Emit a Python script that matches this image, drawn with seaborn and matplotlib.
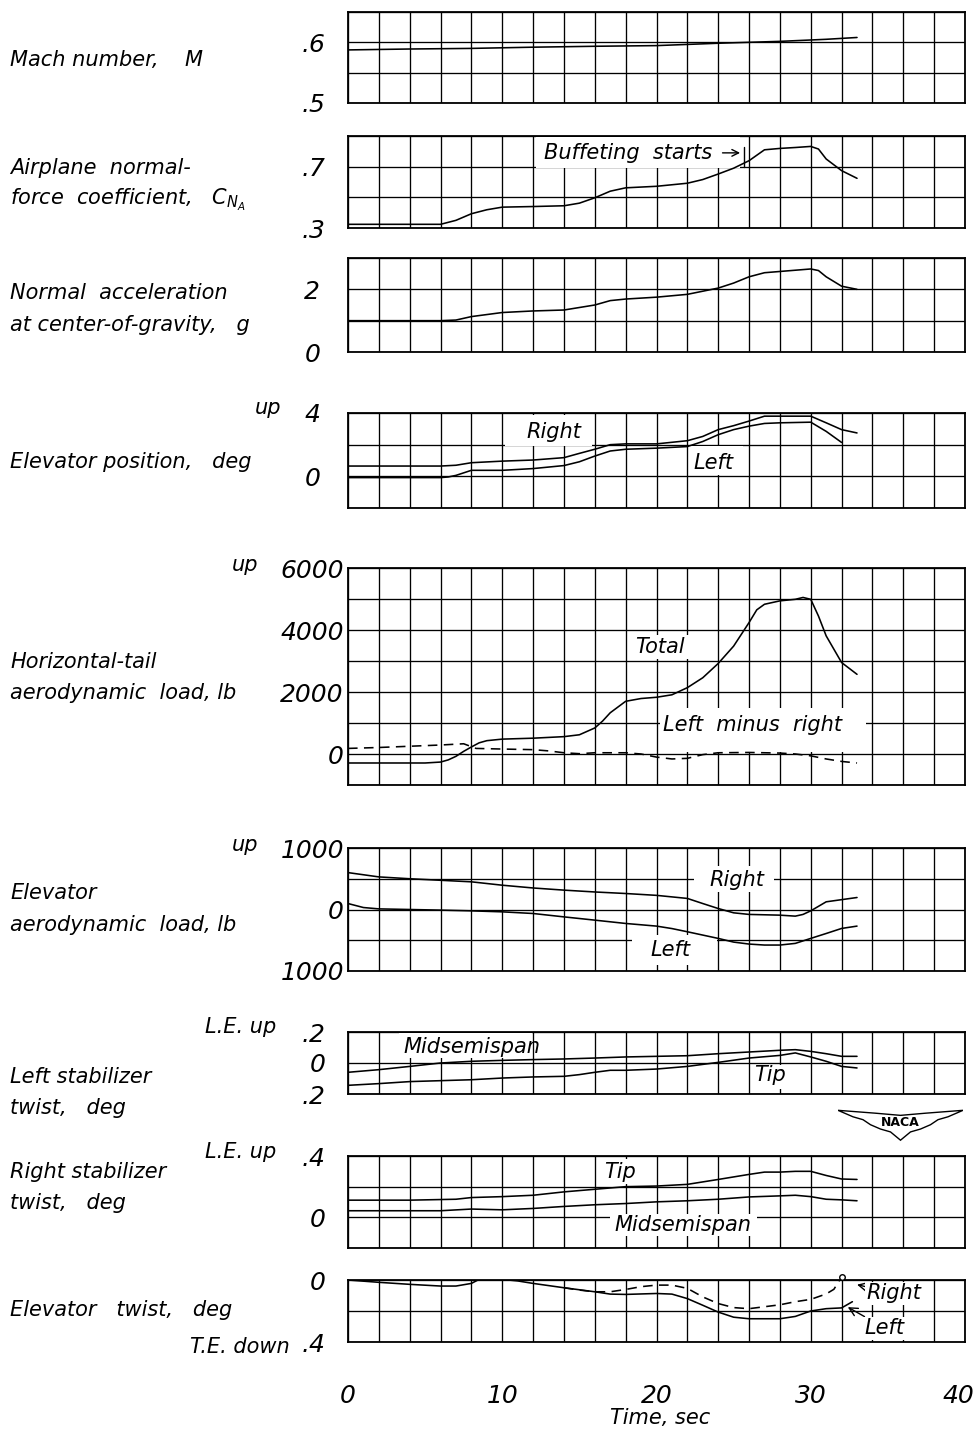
import matplotlib
matplotlib.use("Agg")
import matplotlib.pyplot as plt
from matplotlib.patches import Polygon, Rectangle
from matplotlib.transforms import ScaledTranslation
import numpy as np
import seaborn as sns

# ---------------- data: time histories (time in sec) ----------------
mach_t = [0, 4, 8, 12, 16, 20, 24, 28, 31, 33]
mach_v = [0.5875, 0.589, 0.590, 0.592, 0.5935, 0.5946, 0.5985, 0.6016, 0.605, 0.608]

cna_t = [0, 6, 7, 8, 9, 10, 12, 14, 15, 16, 17, 18, 20, 22, 23, 24, 25, 26, 27,
         28, 29, 30, 30.5, 31, 32, 33]
cna_v = [0.324, 0.324, 0.35, 0.393, 0.419, 0.436, 0.44, 0.445, 0.462, 0.497, 0.54,
         0.562, 0.572, 0.592, 0.616, 0.652, 0.69, 0.739, 0.81, 0.819, 0.825, 0.832,
         0.815, 0.75, 0.674, 0.624]

nz_t = [0, 6, 7, 8, 10, 12, 14, 16, 17, 18, 20, 22, 24, 25, 26, 27, 28, 29, 30,
        30.5, 31, 32, 33]
nz_v = [1.0, 1.0, 1.02, 1.13, 1.26, 1.31, 1.34, 1.5, 1.64, 1.69, 1.75, 1.84, 2.04,
        2.2, 2.4, 2.53, 2.57, 2.61, 2.65, 2.6, 2.4, 2.1, 2.0]

elev_right_t = [0, 6, 7, 8, 10, 12, 14, 15, 16, 17, 18, 20, 22, 23, 24, 25, 26, 27,
                28, 30, 31, 32, 33]
elev_right_v = [0.65, 0.65, 0.7, 0.86, 0.96, 1.03, 1.18, 1.45, 1.71, 2.0, 2.05, 2.05,
                2.25, 2.52, 2.95, 3.2, 3.49, 3.8, 3.8, 3.8, 3.38, 2.95, 2.74]
elev_left_t = [0, 6, 6.5, 7, 8, 10, 12, 14, 15, 16, 17, 18, 20, 22, 23, 24, 25, 26,
               27, 28, 30, 31, 32]
elev_left_v = [-0.08, -0.08, -0.04, 0.06, 0.38, 0.38, 0.49, 0.68, 0.92, 1.28, 1.6,
               1.71, 1.78, 1.88, 2.2, 2.63, 2.95, 3.17, 3.34, 3.38, 3.42, 2.84, 2.14]

tail_total_t = [0, 5, 6, 6.5, 7, 7.5, 8, 8.5, 9, 10, 12, 14, 15, 16, 16.5, 17, 18,
                19, 20, 21, 22, 23, 24, 25, 26, 26.5, 27, 28, 29, 29.5, 30, 30.5, 31,
                32, 33]
tail_total_v = [-290, -290, -260, -190, -75, 86, 227, 360, 430, 480, 510, 560, 620,
                840, 1060, 1330, 1700, 1790, 1830, 1910, 2140, 2460, 2920, 3480, 4240,
                4650, 4830, 4940, 4990, 5050, 4990, 4450, 3810, 2950, 2570]
tail_diff_t = [0, 2, 4, 6, 7.5, 8.3, 10, 12, 13, 14, 15, 16, 18, 19, 20, 21, 22, 23,
               24, 26, 28, 29, 30, 31, 32, 33]
tail_diff_v = [180, 210, 250, 290, 330, 180, 160, 140, 100, 40, 10, 40, 40, 0, -100,
               -160, -140, -20, 40, 50, 30, 0, -60, -160, -240, -290]

eload_right_t = [0, 2, 4, 6, 8, 10, 12, 14, 16, 18, 20, 22, 23, 24, 25, 26, 28, 29,
                 29.5, 30, 31, 32, 33]
eload_right_v = [600, 530, 500, 475, 450, 395, 350, 315, 285, 260, 230, 180, 97, 16,
                 -54, -80, -92, -108, -80, -22, 125, 160, 195]
eload_left_t = [0, 1, 2, 4, 6, 8, 10, 12, 14, 16, 18, 20, 21, 22, 24, 25, 26, 27, 28,
                29, 30, 31, 32, 33]
eload_left_v = [97, 32, 10, 0, -10, -22, -38, -65, -120, -173, -227, -270, -310, -362,
                -470, -530, -562, -578, -578, -551, -470, -390, -308, -270]

lstab_mid_t = [0, 2, 4, 6, 8, 10, 12, 14, 16, 18, 20, 22, 24, 26, 28, 29, 30, 31, 32, 33]
lstab_mid_v = [-0.06, -0.043, -0.022, 0.0, 0.011, 0.017, 0.022, 0.026, 0.032, 0.039,
               0.043, 0.047, 0.06, 0.071, 0.082, 0.086, 0.075, 0.06, 0.043, 0.043]
lstab_tip_t = [0, 2, 4, 6, 8, 10, 12, 14, 15, 16, 17, 18, 20, 22, 24, 26, 28, 29, 30,
               31, 32, 33]
lstab_tip_v = [-0.144, -0.133, -0.12, -0.114, -0.108, -0.097, -0.09, -0.086, -0.075,
               -0.06, -0.047, -0.047, -0.039, -0.022, 0.004, 0.032, 0.049, 0.065, 0.039,
               0.011, -0.022, -0.032]

rstab_tip_t = [0, 4, 7, 8, 10, 12, 14, 16, 18, 20, 22, 24, 26, 27, 28, 29, 30, 31, 32, 33]
rstab_tip_v = [0.112, 0.112, 0.118, 0.129, 0.135, 0.144, 0.166, 0.183, 0.2, 0.204,
               0.215, 0.247, 0.28, 0.295, 0.295, 0.3, 0.3, 0.273, 0.25, 0.247]
rstab_mid_t = [0, 6, 8, 10, 12, 14, 16, 18, 20, 22, 24, 26, 28, 29, 30, 31, 32, 33]
rstab_mid_v = [0.043, 0.043, 0.054, 0.049, 0.058, 0.071, 0.082, 0.09, 0.101, 0.108,
               0.118, 0.133, 0.14, 0.144, 0.135, 0.118, 0.114, 0.108]

etwist_left_t = [0, 2, 4, 6, 7, 8, 8.5, 10, 11, 12, 14, 16, 17, 18, 20, 21, 22, 23,
                 24, 25, 26, 28, 29, 30, 31, 32, 32.7]
etwist_left_v = [0, -0.015, -0.028, -0.039, -0.039, -0.022, 0.004, 0.004, -0.006,
                 -0.022, -0.05, -0.076, -0.091, -0.093, -0.087, -0.091, -0.12, -0.163,
                 -0.207, -0.24, -0.25, -0.25, -0.235, -0.2, -0.185, -0.18, -0.14]
etwist_right_t = [14, 15, 16, 17, 18, 19, 20, 21, 22, 23, 24, 25, 26, 28, 29, 30, 31,
                  31.5, 32]
etwist_right_v = [-0.05, -0.065, -0.076, -0.076, -0.061, -0.043, -0.033, -0.033,
                  -0.054, -0.109, -0.152, -0.178, -0.185, -0.16, -0.14, -0.125, -0.09,
                  -0.06, 0.02]

time_ticks = [0, 10, 20, 30, 40]

# ---------------- styling ----------------
sns.set_theme(style="white")
plt.rcParams["font.family"] = ["DejaVu Sans"]
plt.rcParams["font.style"] = "oblique"
plt.rcParams["mathtext.fontset"] = "dejavusans"
for key in ("text.color", "axes.labelcolor", "xtick.color", "ytick.color",
            "xtick.labelcolor", "ytick.labelcolor"):
    plt.rcParams[key] = "black"

W, H = 979, 1430
fig = plt.figure(figsize=(W / 100, H / 100), dpi=100)
fig.patch.set_facecolor("white")

LX0, LX1 = 348, 965
LW = 1.15
LAB = 15
NUM = 18


def make_panel(top, bottom, ylo, yhi, step, labels, pad):
    ax = fig.add_axes([LX0 / W, 1 - bottom / H, (LX1 - LX0) / W, (bottom - top) / H])
    ax.set_xlim(0, 40)
    ax.set_ylim(ylo, yhi)
    ax.set_xticks(np.arange(0, 41, 2))
    ax.set_xticklabels([])
    yt = np.round(np.arange(ylo, yhi + step / 2, step), 6)
    ax.set_yticks(yt)
    ax.set_yticklabels([labels.get(round(float(v), 6), "") for v in yt],
                       fontsize=NUM, fontstyle="oblique", color="black")
    ax.tick_params(axis="both", length=0)
    ax.tick_params(axis="y", pad=pad)
    ax.grid(True, color="black", lw=0.95)
    for s in ax.spines.values():
        s.set_color("black")
        s.set_linewidth(1.3)
    ax.set_xlabel("")
    ax.set_ylabel("")
    return ax


def curve(ax, t, v, **kw):
    sns.lineplot(x=t, y=v, ax=ax, color="black", lw=LW, legend=False, **kw)
    ax.set_xlabel("")
    ax.set_ylabel("")


def note(ax, x, y, s, ha="left"):
    ax.text(x, y, s, fontsize=LAB, ha=ha, va="center", fontstyle="oblique",
            color="black", zorder=5)


def clear_box(ax, x0, x1, y0, y1):
    # white patch that interrupts the grid behind a lettered label
    ax.add_patch(Rectangle((x0, y0), x1 - x0, y1 - y0, facecolor="white",
                           edgecolor="none", zorder=1))


def ftext(x, y, s, size=LAB, ha="left"):
    fig.text(x / W, 1 - y / H, s, fontsize=size, ha=ha, va="center",
             fontstyle="oblique", color="black")


# 1 Mach number
ax1 = make_panel(12, 103, 0.5, 0.65, 0.05, {0.5: ".5", 0.6: ".6"}, 16)
curve(ax1, mach_t, mach_v)

# 2 Normal-force coefficient
ax2 = make_panel(136, 228, 0.3, 0.9, 0.2, {0.3: ".3", 0.7: ".7"}, 16)
clear_box(ax2, 12.2, 25.4, 0.69, 0.895)
curve(ax2, cna_t, cna_v)
note(ax2, 12.7, 0.79, "Buffeting  starts")
ax2.annotate("", xy=(25.6, 0.79), xytext=(24.1, 0.79),
             arrowprops=dict(arrowstyle="->", lw=1.0, color="black"), zorder=6)
ax2.plot([25.7, 25.7], [0.70, 0.83], color="black", lw=1.0, zorder=6)

# 3 Normal acceleration
ax3 = make_panel(258, 352, 0, 3, 1, {0: "0", 2: "2"}, 20)
curve(ax3, nz_t, nz_v)

# 4 Elevator position
ax4 = make_panel(413, 508, -2, 4, 2, {0: "0", 4: "4"}, 20)
clear_box(ax4, 10.2, 15.8, 1.9, 3.9)
clear_box(ax4, 22.1, 25.6, 0.1, 1.9)
curve(ax4, elev_right_t, elev_right_v)
curve(ax4, elev_left_t, elev_left_v)
note(ax4, 11.6, 2.8, "Right")
note(ax4, 22.4, 0.85, "Left")

# 5 Horizontal-tail load
ax5 = make_panel(568, 785, -1000, 6000, 1000,
                 {0: "0", 2000: "2000", 4000: "4000", 6000: "6000"}, 3)
clear_box(ax5, 18.3, 22.3, 3050, 3850)
clear_box(ax5, 20.2, 33.6, 60, 1480)
curve(ax5, tail_total_t, tail_total_v)
curve(ax5, tail_diff_t, tail_diff_v, linestyle=(0, (6, 4)))
note(ax5, 18.6, 3450, "Total")
note(ax5, 20.4, 930, "Left  minus  right")

# 6 Elevator aerodynamic load
ax6 = make_panel(848, 971, -1000, 1000, 500,
                 {-1000: "1000", 0: "0", 1000: "1000"}, 3)
clear_box(ax6, 22.4, 27.6, 290, 700)
clear_box(ax6, 18.4, 23.9, -900, -420)
curve(ax6, eload_right_t, eload_right_v)
curve(ax6, eload_left_t, eload_left_v)
note(ax6, 23.4, 480, "Right")
note(ax6, 19.6, -660, "Left")

# 7 Left stabilizer twist
ax7 = make_panel(1032, 1094, -0.2, 0.2, 0.2, {-0.2: ".2", 0.0: "0", 0.2: ".2"}, 16)
clear_box(ax7, 3.3, 11.9, 0.03, 0.195)
clear_box(ax7, 26.1, 28.6, -0.17, -0.01)
curve(ax7, lstab_mid_t, lstab_mid_v)
curve(ax7, lstab_tip_t, lstab_tip_v)
note(ax7, 3.6, 0.103, "Midsemispan")
note(ax7, 26.3, -0.077, "Tip")

# 8 Right stabilizer twist
ax8 = make_panel(1156, 1248, -0.2, 0.4, 0.2, {0.0: "0", 0.4: ".4"}, 16)
clear_box(ax8, 16.3, 19.0, 0.22, 0.38)
clear_box(ax8, 17.0, 26.5, -0.12, 0.02)
curve(ax8, rstab_tip_t, rstab_tip_v)
curve(ax8, rstab_mid_t, rstab_mid_v)
note(ax8, 16.6, 0.296, "Tip")
note(ax8, 17.3, -0.05, "Midsemispan")

# 9 Elevator twist
ax9 = make_panel(1280, 1342, -0.4, 0.0, 0.2, {-0.4: ".4", 0.0: "0"}, 16)
curve(ax9, etwist_left_t, etwist_left_v)
curve(ax9, etwist_right_t, etwist_right_v, linestyle=(0, (6, 4)))
ax9.plot([32.0], [0.02], marker="o", ms=4, mfc="white", mec="black", mew=1.0,
         clip_on=False, zorder=6)
ax9.annotate("Right", xy=(33.0, -0.03), xytext=(33.6, -0.085), fontsize=LAB,
             ha="left", va="center", fontstyle="oblique", color="black", zorder=6,
             bbox=dict(facecolor="white", edgecolor="none", pad=1.0),
             arrowprops=dict(arrowstyle="->", lw=1.0, color="black",
                             shrinkA=0, shrinkB=0))
ax9.annotate("Left", xy=(32.4, -0.175), xytext=(33.5, -0.31), fontsize=LAB,
             ha="left", va="center", fontstyle="oblique", color="black", zorder=6,
             bbox=dict(facecolor="white", edgecolor="none", pad=1.0),
             arrowprops=dict(arrowstyle="->", lw=1.0, color="black",
                             shrinkA=0, shrinkB=0))
ax9.set_xticklabels([str(v) if v in time_ticks else "" for v in range(0, 41, 2)],
                    fontsize=NUM, fontstyle="oblique", color="black")
ax9.tick_params(axis="x", pad=30)
last = ax9.get_xticklabels()[-1]
last.set_transform(last.get_transform() + ScaledTranslation(-0.07, 0, fig.dpi_scale_trans))

# ---------------- left-hand titles ----------------
ftext(10, 60, "Mach number,    M")
ftext(10, 168, "Airplane  normal-")
ftext(10, 200, r"force  coefficient,   $C_{N_A}$")
ftext(10, 293, "Normal  acceleration")
ftext(10, 325, "at center-of-gravity,   g")
ftext(255, 408, "up")
ftext(10, 462, "Elevator position,   deg")
ftext(232, 565, "up")
ftext(10, 662, "Horizontal-tail")
ftext(10, 693, "aerodynamic  load, lb")
ftext(232, 845, "up")
ftext(10, 893, "Elevator")
ftext(10, 925, "aerodynamic  load, lb")
ftext(205, 1027, "L.E. up")
ftext(10, 1077, "Left stabilizer")
ftext(10, 1108, "twist,   deg")
ftext(205, 1152, "L.E. up")
ftext(10, 1172, "Right stabilizer")
ftext(10, 1203, "twist,   deg")
ftext(10, 1310, "Elevator   twist,   deg")
ftext(190, 1347, "T.E. down")
ftext(660, 1418, "Time, sec", ha="center")

# ---------------- NACA wing emblem ----------------
lg = fig.add_axes([838 / W, 1 - 1142 / H, 125 / W, 36 / H])
lg.set_xlim(0, 1)
lg.set_ylim(0, 1)
lg.axis("off")
wing = [(0.0, 0.88), (0.3, 0.80), (0.5, 0.74), (0.7, 0.80), (1.0, 0.88),
        (0.88, 0.70), (0.8, 0.62), (0.74, 0.48), (0.66, 0.36), (0.58, 0.28),
        (0.5, 0.05), (0.42, 0.28), (0.34, 0.36), (0.26, 0.48), (0.2, 0.62),
        (0.12, 0.70)]
lg.add_patch(Polygon(wing, closed=True, facecolor="white", edgecolor="black", lw=1.0))
lg.text(0.5, 0.55, "NACA", ha="center", va="center", fontsize=9,
        fontweight="bold", fontstyle="normal", color="black")

fig.savefig("out.png", dpi=100, facecolor="white")
